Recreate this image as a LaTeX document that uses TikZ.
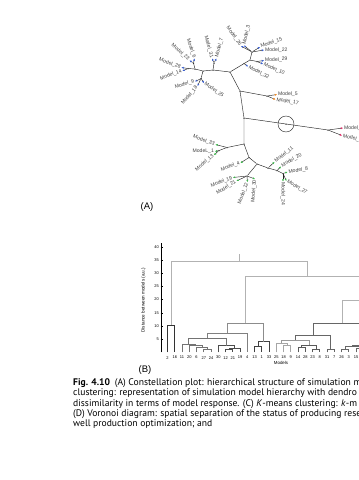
\documentclass[tikz,border=0pt]{standalone}
\usepackage{fontspec}
\setmainfont{Liberation Sans}
\newfontfamily\capfont{PT Sans}
\usetikzlibrary{arrows.meta}
\definecolor{tipblue}{HTML}{3A5FCD}
\definecolor{tiporange}{HTML}{F08C28}
\definecolor{tipred}{HTML}{E0306A}
\definecolor{tipgreen}{HTML}{3CB44B}
\newcommand\dlink[6]{\draw[#6] (#1,{352.4-2.64*(#2)}) -- (#1,{352.4-2.64*(#5)}) -- (#3,{352.4-2.64*(#5)}) -- (#3,{352.4-2.64*(#4)});}
\begin{document}
\begin{tikzpicture}[x=1pt,y=-1pt,
  treeedge/.style={line width=0.45pt, black!85},
  inode/.style={circle, fill=black, inner sep=0pt, minimum size=1.5pt},
  lbl/.style={font=\fontsize{5.1}{5.5}\selectfont, text=black!75, inner sep=0.9pt},
  tipb/.style={treeedge,-{Triangle[length=2.2pt,width=1.8pt,color=tipblue]}},
  tipo/.style={treeedge,-{Triangle[length=2.2pt,width=1.8pt,color=tiporange]}},
  tipr/.style={treeedge,-{Triangle[length=2.2pt,width=1.8pt,color=tipred]}},
  tipg/.style={treeedge,-{Triangle[length=2.2pt,width=1.8pt,color=tipgreen]}},
  dend/.style={line width=0.75pt},
  tklbl/.style={font=\fontsize{4}{4.5}\selectfont, inner sep=0.5pt},
  captext/.style={font=\capfont\fontsize{9.6}{10}\selectfont, anchor=base west, inner sep=0pt},
  panel/.style={font=\fontsize{9.5}{10}\selectfont, inner sep=0pt}]
\useasboundingbox (0,0) rectangle (359,480);
\clip (0,0) rectangle (359,480);
% ---------------- (A) constellation plot ----------------
\node[inode] (r1) at (240,91) {};
\node[inode] (r2) at (244,118) {};
\node[inode] (r3) at (244,144) {};
\node[inode] (u0) at (230,72) {};
\node[inode] (ua) at (213,70) {};
\node[inode] (ua1) at (214,63) {};
\node[inode] (ub) at (203,71) {};
\node[inode] (uc) at (195,69) {};
\node[inode] (uc1) at (193.5,63) {};
\node[inode] (ud) at (188,68.5) {};
\node[inode] (ue) at (201,78.5) {};
\node[inode] (um) at (244,63.6) {};
\node[inode] (ur) at (250,60) {};
\node[inode] (us) at (252,52) {};
\node[inode] (ut) at (257,61.5) {};
\node[inode] (m5) at (267,96) {};
\node[inode] (cc) at (286,124) {};
\node[inode] (rr) at (328,130) {};
\node[inode] (l1) at (227,147.5) {};
\node[inode] (l2) at (219,150.5) {};
\node[inode] (l4) at (249,157.5) {};
\node[inode] (l3) at (257,164) {};
\node[inode] (l5) at (247,176) {};
\node[inode] (l6) at (268,168) {};
\node[inode] (l7) at (277,170.5) {};
\node[inode] (l8) at (283,173.5) {};
\draw[treeedge] (cc) circle (8pt);
\draw[treeedge] (r1) -- (u0) (r1) -- (m5) (r1) -- (r2) (r2) -- (cc) -- (rr) (r2) -- (r3)
  (u0) -- (ua) (ua) -- (ua1) (ua) -- (ub) (ub) -- (uc) (uc) -- (uc1) (uc) -- (ud) (ub) -- (ue)
  (u0) -- (um) -- (ur) (ur) -- (us) (ur) -- (ut)
  (r3) -- (l1) (l1) -- (l2) (r3) -- (l4) -- (l3) (l3) -- (l5) (l3) -- (l6) -- (l7) -- (l8);
% tips
\coordinate (t26) at (241,46);   \coordinate (t3) at (244,45.5);
\coordinate (t15) at (260,47);   \coordinate (t22) at (264,50);
\coordinate (t29) at (264,60.5); \coordinate (t10) at (263,64);
\coordinate (t32) at (248,66.5); \coordinate (t7) at (216.5,58.5);
\coordinate (t31) at (212,58.5); \coordinate (t6) at (194.5,58.5);
\coordinate (t23) at (189.5,60.5); \coordinate (t28) at (181.5,67.5);
\coordinate (t14) at (182.5,71); \coordinate (t9) at (195,81.5);
\coordinate (t18) at (197.5,86); \coordinate (t25) at (204,83);
\coordinate (t5) at (277,94.5);  \coordinate (t17) at (275.5,99.5);
\coordinate (tra) at (343,128);  \coordinate (trb) at (342,135.5);
\coordinate (t33) at (215.5,144.5); \coordinate (t1) at (215,151.5);
\coordinate (t13) at (214,155);  \coordinate (t4) at (240.5,163);
\coordinate (t19) at (233,177.5); \coordinate (t21) at (236.5,181);
\coordinate (t12) at (247.5,182); \coordinate (t30) at (255,179);
\coordinate (t11) at (274.5,162); \coordinate (t20) at (281,166.5);
\coordinate (t8) at (287.5,172);  \coordinate (t27) at (286.5,181);
\coordinate (t24) at (283,181.5);
\draw[tipb] (us) -- (t26); \draw[tipb] (us) -- (t3); \draw[tipb] (us) -- (t15); \draw[tipb] (us) -- (t22);
\draw[tipb] (ut) -- (t29); \draw[tipb] (ut) -- (t10); \draw[tipb] (um) -- (t32);
\draw[tipb] (ua1) -- (t7); \draw[tipb] (ua1) -- (t31); \draw[tipb] (uc1) -- (t6); \draw[tipb] (uc1) -- (t23);
\draw[tipb] (ud) -- (t28); \draw[tipb] (ud) -- (t14);
\draw[tipb] (ue) -- (t9); \draw[tipb] (ue) -- (t18); \draw[tipb] (ue) -- (t25);
\draw[tipo] (m5) -- (t5); \draw[tipo] (m5) -- (t17);
\draw[tipr] (rr) -- (tra); \draw[tipr] (rr) -- (trb);
\draw[tipg] (l1) -- (t33); \draw[tipg] (l2) -- (t1); \draw[tipg] (l2) -- (t13); \draw[tipg] (l4) -- (t4);
\draw[tipg] (l5) -- (t19); \draw[tipg] (l5) -- (t21); \draw[tipg] (l5) -- (t12); \draw[tipg] (l5) -- (t30);
\draw[tipg] (l6) -- (t11); \draw[tipg] (l7) -- (t20); \draw[tipg] (l8) -- (t8); \draw[tipg] (l8) -- (t27); \draw[tipg] (l8) -- (t24);
% labels
\node[lbl,anchor=east,rotate=-55] (n26) at (t26) {Model\_26};
\node[lbl,anchor=west,rotate=77] (n3) at (t3) {Model\_3};
\node[lbl,anchor=west,rotate=20] (n15) at (t15) {Model\_15};
\node[lbl,anchor=west,rotate=0] (n22) at (t22) {Model\_22};
\node[lbl,anchor=west,rotate=3] (n29) at (t29) {Model\_29};
\node[lbl,anchor=west,rotate=-25] (n10) at (t10) {Model\_10};
\node[lbl,anchor=west,rotate=-28] (n32) at (t32) {Model\_32};
\node[lbl,anchor=west,rotate=75] (n7) at (t7) {Model\_7};
\node[lbl,anchor=east,rotate=-75] (n31) at (t31) {Model\_31};
\node[lbl,anchor=east,rotate=-72] (n6) at (t6) {Model\_6};
\node[lbl,anchor=east,rotate=-42] (n23) at (t23) {Model\_23};
\node[lbl,anchor=east,rotate=-20] (n28) at (t28) {Model\_28};
\node[lbl,anchor=east,rotate=20] (n14) at (t14) {Model\_14};
\node[lbl,anchor=east,rotate=15] (n9) at (t9) {Model\_9};
\node[lbl,anchor=east,rotate=50] (n18) at (t18) {Model\_18};
\node[lbl,anchor=west,rotate=-35] (n25) at (t25) {Model\_25};
\node[lbl,anchor=west,rotate=0] (n5) at (t5) {Model\_5};
\node[lbl,anchor=west,rotate=-10] (n17) at (t17) {Model\_17};
\node[lbl,anchor=west,rotate=0] (nra) at (tra) {Model\_};
\node[lbl,anchor=west,rotate=-15] (nrb) at (trb) {Model\_};
\node[lbl,anchor=east,rotate=-20] (n33) at (t33) {Model\_33};
\node[lbl,anchor=east,rotate=0] (n1) at (t1) {ModeL\_1};
\node[lbl,anchor=east,rotate=40] (n13) at (t13) {Model\_13};
\node[lbl,anchor=east,rotate=20] (n4) at (t4) {Model\_4};
\node[lbl,anchor=east,rotate=22] (n19) at (t19) {Model\_19};
\node[lbl,anchor=east,rotate=33] (n21) at (t21) {Model\_21};
\node[lbl,anchor=east,rotate=70] (n12) at (t12) {Model\_12};
\node[lbl,anchor=east,rotate=85] (n30) at (t30) {Model\_30};
\node[lbl,anchor=west,rotate=38] (n11) at (t11) {Model\_11};
\node[lbl,anchor=west,rotate=30] (n20) at (t20) {Model\_20};
\node[lbl,anchor=west,rotate=8] (n8) at (t8) {Model\_8};
\node[lbl,anchor=west,rotate=-30] (n27) at (t27) {Model\_27};
\node[lbl,anchor=west,rotate=-90] (n24) at (t24) {Model\_24};
\node[panel] (pA) at (147,207) {(A)};
% ---------------- (B) dendrogram ----------------
\draw[line width=0.4pt] (160.7,352.4) -- (160.7,242.5);
\foreach \v [count=\k] in {5,10,...,40}
  {\draw[line width=0.4pt] (160.7,{352.4-13.2*\k}) -- (162.5,{352.4-13.2*\k});
   \node[tklbl,anchor=east] at (159.5,{352.4-13.2*\k}) {\v};}
\foreach \lab [count=\i from 0] in {2,16,11,20,6,27,24,30,12,21,19,4,13,1,33,25,18,9,14,28,23,8,31,7,26,3,15}
  {\node[tklbl] at ({167.5+7.25*\i},357.6) {\lab};}
\node[tklbl,font=\fontsize{4.4}{5}\selectfont] (xl) at (281,363) {Models};
\node[tklbl,font=\fontsize{4.6}{5}\selectfont,rotate=90] (yl) at (143.5,300) {Distance between models (a.u.)};
% links
\dlink{167.5}{0}{174.75}{0}{10.4}{dend,black!80}
\dlink{203.75}{0}{211}{0}{1.0}{dend,black!55}
\dlink{196.5}{0}{207.4}{1.0}{1.8}{dend,black!55}
\dlink{189.25}{0}{201.9}{1.8}{2.5}{dend,black!55}
\dlink{182}{0}{195.6}{2.5}{3.2}{dend,black!55}
\dlink{225.5}{0}{232.75}{0}{1.1}{dend,black!70}
\dlink{229.1}{1.1}{240}{0}{1.7}{dend,black!70}
\dlink{218.25}{0}{234.6}{1.7}{2.5}{dend,black!70}
\dlink{188.8}{3.2}{226.4}{2.5}{5.3}{dend,black!55}
\dlink{207.6}{5.3}{247.25}{0}{7.2}{dend,black!50}
\dlink{254.5}{0}{261.75}{0}{2.2}{dend,black!75}
\dlink{258.1}{2.2}{269}{0}{4.1}{dend,black!75}
\dlink{227.4}{7.2}{263.6}{4.1}{11}{dend,black!45}
\dlink{283.5}{0}{290.75}{0}{2.6}{dend,black!35}
\dlink{276.25}{0}{287.1}{2.6}{3.4}{dend,black!35}
\dlink{298}{0}{305.25}{0}{1.8}{dend,black!65}
\dlink{312.5}{0}{319.75}{0}{1.0}{dend,black!65}
\dlink{301.6}{1.8}{316.1}{1.0}{2.8}{dend,black!65}
\dlink{281.7}{3.4}{308.9}{2.8}{4.6}{dend,black!40}
\dlink{327}{0}{334.25}{0}{1.3}{dend,black!60}
\dlink{295.3}{4.6}{330.6}{1.3}{6.6}{dend,black!60}
\dlink{341.5}{0}{348.75}{0}{1.3}{dend,black!60}
\dlink{356}{0}{363.25}{0}{1.6}{dend,black!60}
\dlink{345.1}{1.3}{359.6}{1.6}{2.3}{dend,black!60}
\dlink{352.4}{2.3}{392.4}{2.3}{2.6}{dend,black!60}
\dlink{313}{6.6}{372.4}{2.6}{11}{dend,black!60}
\dlink{342.7}{11}{396.5}{11}{19.8}{dend,black!30}
\dlink{245.5}{11}{369.6}{19.8}{28.7}{dend,black!30}
\dlink{171.1}{10.4}{307.55}{28.7}{34.4}{dend,black!30}
\draw[dend,black!30] (239.3,{352.4-2.64*34.4}) -- (239.3,{352.4-2.64*37.3});
\node[panel] (pB) at (145,370) {(B)};
% ---------------- caption ----------------
\node[captext] (c1) at (73,385.5) {\textbf{Fig. 4.10}\enspace (A) Constellation plot: hierarchical structure of simulation m};
\node[captext] (c2) at (73,395.8) {clustering: representation of simulation model hierarchy with dendro};
\node[captext] (c3) at (73,406.1) {dissimilarity in terms of model response. (C) \textit{K}-means clustering: \textit{k}-m};
\node[captext] (c4) at (73,416.4) {(D) Voronoi diagram: spatial separation of the status of producing rese};
\node[captext] (c5) at (73,426.7) {well production optimization; and};
\end{tikzpicture}
\end{document}
